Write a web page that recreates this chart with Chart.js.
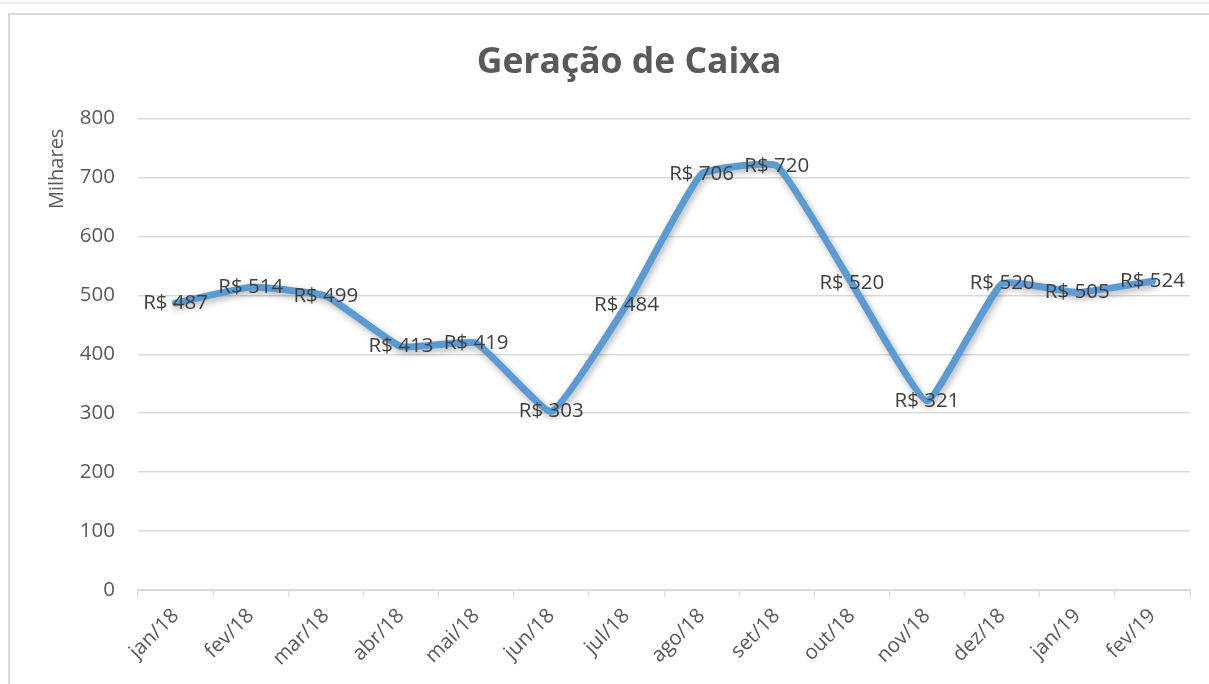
<!DOCTYPE html>
<html lang="pt">
<head>
<meta charset="utf-8">
<title>Geração de Caixa</title>
<script src="https://cdn.jsdelivr.net/npm/chart.js@4/dist/chart.umd.min.js"></script>
<style>
  html, body { margin: 0; padding: 0; background: #fff; overflow: hidden; }
  #page { position: relative; width: 1209px; height: 684px; }
  #topLine { position: absolute; left: 0; top: 2px; width: 1209px; border-top: 2px solid #ececec; }
  #frame { position: absolute; left: 8px; top: 13px; width: 1220px; height: 700px; border: 2px solid #d9d9d9; box-sizing: border-box; }
  #wrap { position: absolute; left: 0; top: 0; width: 1209px; height: 684px; }
</style>
</head>
<body>
<div id="page">
  <div id="topLine"></div>
  <div id="frame"></div>
  <div id="wrap"><canvas id="chartCaixa"></canvas></div>
</div>
<script>
// dados do gráfico
const meses = ['jan/18', 'fev/18', 'mar/18', 'abr/18', 'mai/18', 'jun/18', 'jul/18',
  'ago/18', 'set/18', 'out/18', 'nov/18', 'dez/18', 'jan/19', 'fev/19'];
const geracaoCaixa = [487, 514, 499, 413, 419, 303, 484, 706, 720, 520, 321, 520, 505, 524];
const yTicks = [0, 100, 200, 300, 400, 500, 600, 700, 800];

const FONT = "'Open Sans', 'Noto Sans', sans-serif";
const GRID = '#d9d9d9';

// sombra da linha (estilo Excel)
const shadowPlugin = {
  id: 'lineShadow',
  beforeDatasetDraw(chart) {
    const ctx = chart.ctx;
    ctx.save();
    ctx.shadowColor = 'rgba(0, 0, 0, 0.3)';
    ctx.shadowBlur = 7;
    ctx.shadowOffsetX = 2;
    ctx.shadowOffsetY = 3;
  },
  afterDatasetDraw(chart) {
    chart.ctx.restore();
  },
};

// rótulos "R$ xxx" centralizados nos pontos
const rotulosPlugin = {
  id: 'rotulos',
  afterDatasetsDraw(chart) {
    const ctx = chart.ctx;
    const meta = chart.getDatasetMeta(0);
    const valores = chart.data.datasets[0].data;
    ctx.save();
    ctx.font = `20.5px ${FONT}`;
    ctx.fillStyle = '#404040';
    ctx.textAlign = 'center';
    ctx.textBaseline = 'middle';
    meta.data.forEach((pt, i) => {
      ctx.fillText('R$ ' + valores[i], pt.x, pt.y);
    });
    ctx.restore();
  },
};

// "Milhares" um pouco abaixo do topo do eixo, como no Excel
const tituloEixoPlugin = {
  id: 'tituloEixo',
  beforeDraw(chart) {
    const ctx = chart.ctx;
    const y = chart.scales.y;
    ctx.save();
    ctx.font = `20px ${FONT}`;
    ctx.fillStyle = '#595959';
    ctx.textAlign = 'right';
    ctx.textBaseline = 'middle';
    ctx.translate(57, y.top + 10);
    ctx.rotate(-Math.PI / 2);
    ctx.fillText('Milhares', 0, 0);
    ctx.restore();
  },
};

const ctx = document.getElementById('chartCaixa');

new Chart(ctx, {
  type: 'line',
  data: {
    labels: meses,
    datasets: [
      {
        label: 'Geração de Caixa',
        data: geracaoCaixa,
        borderColor: '#5b9bd5',
        borderWidth: 7,
        borderCapStyle: 'round',
        borderJoinStyle: 'round',
        pointRadius: 0,
        tension: 0.12,
        fill: false,
      },
    ],
  },
  options: {
    responsive: true,
    maintainAspectRatio: false,
    animation: false,
    layout: { padding: { left: 68, right: 19, top: 0, bottom: 0 } },
    plugins: {
      legend: { display: false },
      tooltip: { enabled: false },
      title: {
        display: true,
        text: 'Geração de Caixa',
        color: '#595959',
        font: { family: FONT, size: 35.5, weight: 'bold' },
        padding: { top: 42, bottom: 34 },
      },
    },
    scales: {
      x: {
        offset: true,
        grid: {
          display: true,
          offset: true,
          drawOnChartArea: false,
          drawTicks: true,
          tickLength: 7,
          color: GRID,
        },
        border: { display: true, color: GRID, width: 2 },
        ticks: {
          color: '#595959',
          font: { family: FONT, size: 20.5 },
          minRotation: 45,
          maxRotation: 45,
          padding: 7,
          autoSkip: false,
        },
        afterFit(scale) { scale.height = 94; },
      },
      y: {
        min: 0,
        max: 800,
        afterBuildTicks(scale) {
          scale.ticks = yTicks.map((v) => ({ value: v }));
        },
        grid: { color: GRID, lineWidth: 1.5, drawTicks: false },
        border: { display: false },
        ticks: {
          color: '#595959',
          font: { family: FONT, size: 20.5 },
          padding: 23,
        },
        afterFit(scale) { scale.width = 70; },
      },
    },
  },
  plugins: [shadowPlugin, rotulosPlugin, tituloEixoPlugin],
});
</script>
</body>
</html>
